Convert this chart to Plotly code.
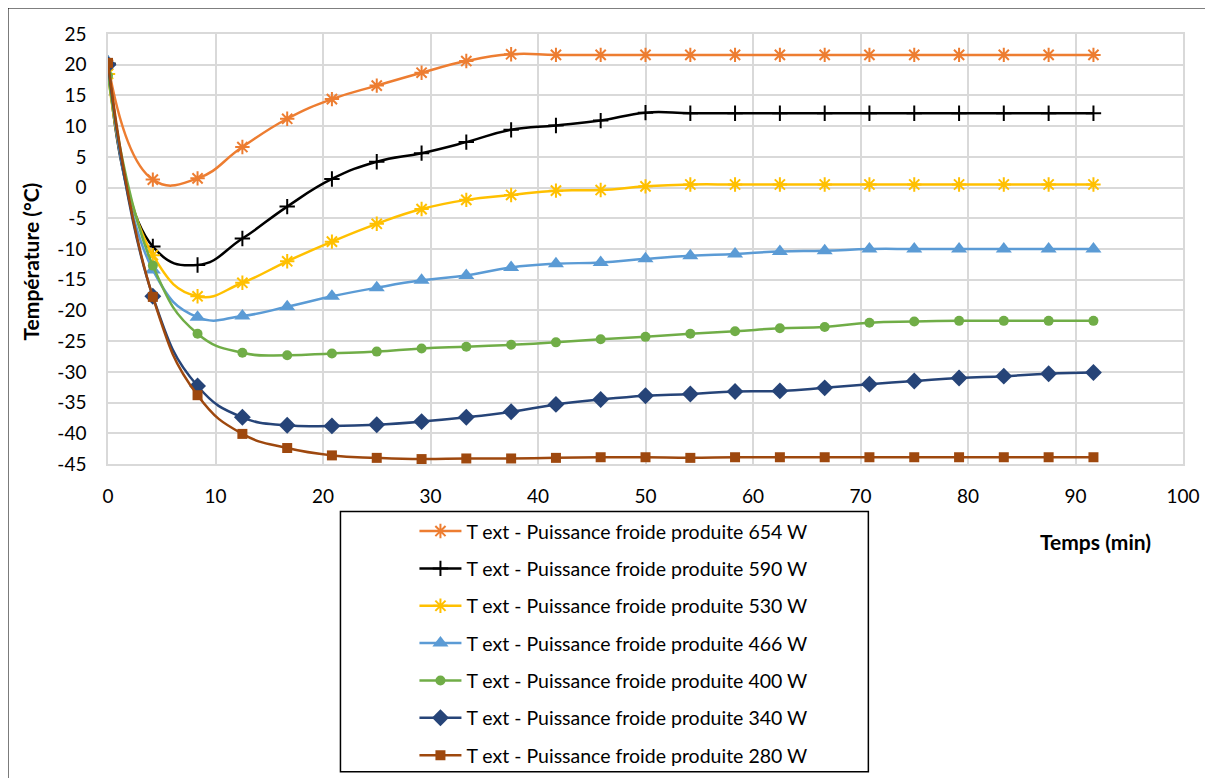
import plotly.graph_objects as go

# ---- data ----
time_min = [0, 4.17, 8.33, 12.5, 16.67, 20.83, 25, 29.17, 33.33, 37.5, 41.67, 45.83,
            50, 54.17, 58.33, 62.5, 66.67, 70.83, 75, 79.17, 83.33, 87.5, 91.67]

t_654 = [20.0, 1.3, 1.5, 6.6, 11.2, 14.4, 16.6, 18.7, 20.6, 21.7, 21.6, 21.6,
         21.6, 21.6, 21.6, 21.6, 21.6, 21.6, 21.6, 21.6, 21.6, 21.6, 21.6]
t_590 = [20.2, -9.6, -12.6, -8.3, -3.1, 1.4, 4.2, 5.6, 7.4, 9.4, 10.1, 10.9,
         12.2, 12.1, 12.1, 12.1, 12.1, 12.1, 12.1, 12.1, 12.1, 12.1, 12.1]
t_530 = [18.5, -11.0, -17.7, -15.5, -12.0, -8.8, -5.9, -3.5, -2.0, -1.2, -0.5, -0.4,
         0.2, 0.5, 0.5, 0.5, 0.5, 0.5, 0.5, 0.5, 0.5, 0.5, 0.5]
t_466 = [20.5, -13.4, -21.1, -20.9, -19.4, -17.7, -16.3, -15.1, -14.3, -13.0, -12.4, -12.2,
         -11.6, -11.1, -10.8, -10.4, -10.3, -10.0, -10.0, -10.0, -10.0, -10.0, -10.0]
t_400 = [18.2, -12.7, -23.8, -26.9, -27.3, -27.0, -26.7, -26.2, -25.9, -25.6, -25.2, -24.7,
         -24.3, -23.8, -23.4, -22.9, -22.7, -22.0, -21.8, -21.7, -21.7, -21.7, -21.7]
t_340 = [20.0, -17.7, -32.3, -37.4, -38.7, -38.8, -38.6, -38.1, -37.4, -36.5, -35.3, -34.5,
         -33.9, -33.6, -33.2, -33.1, -32.6, -32.0, -31.5, -31.0, -30.7, -30.3, -30.1]
t_280 = [20.3, -17.8, -33.8, -40.1, -42.4, -43.6, -44.0, -44.2, -44.1, -44.1, -44.0, -43.9,
         -43.9, -44.0, -43.9, -43.9, -43.9, -43.9, -43.9, -43.9, -43.9, -43.9, -43.9]

series_names = [
    "T ext - Puissance froide produite 654 W",
    "T ext - Puissance froide produite 590 W",
    "T ext - Puissance froide produite 530 W",
    "T ext - Puissance froide produite 466 W",
    "T ext - Puissance froide produite 400 W",
    "T ext - Puissance froide produite 340 W",
    "T ext - Puissance froide produite 280 W",
]
series_values = [t_654, t_590, t_530, t_466, t_400, t_340, t_280]

x_ticks = [0, 10, 20, 30, 40, 50, 60, 70, 80, 90, 100]
y_ticks = [25, 20, 15, 10, 5, 0, -5, -10, -15, -20, -25, -30, -35, -40, -45]

# ---- styles ----
colors = ["#ED7D31", "#000000", "#FFC000", "#5B9BD5", "#70AD47", "#264478", "#9E480E"]
symbols = ["asterisk-open", "cross-thin-open", "asterisk-open", "triangle-up",
           "circle", "diamond", "square"]
sizes = [12, 11, 12, 14, 10, 13, 10]

FONT = "Lato"
W, H = 1213, 778
OFF = 8  # page offset of the figure (default body margin)
# plot area in page pixels
PL, PR, PT, PB = 107.5, 1182.7, 33.5, 464.5
PW, PH = PR - PL, PB - PT
ML, MT = PL - OFF, PT - OFF
MR = W - ML - PW
MB = H - MT - PH


def px_x(p):
    return (p - PL) / PW


def px_y(p):
    return (PB - p) / PH


fig = go.Figure()
for i, (name, vals) in enumerate(zip(series_names, series_values)):
    open_sym = symbols[i].endswith("open")
    fig.add_trace(go.Scatter(
        x=time_min, y=vals, name=name, mode="lines+markers",
        line=dict(color=colors[i], width=2.5, shape="spline", smoothing=1.3),
        marker=dict(symbol=symbols[i], size=sizes[i], color=colors[i],
                    line=dict(color=colors[i], width=2 if open_sym else 0)),
        legendgroup=f"g{i}",
    ))

grid = "#D9D9D9"
fig.update_xaxes(
    range=[0, 100], tickvals=x_ticks, ticktext=[str(v) for v in x_ticks],
    showgrid=True, gridcolor=grid, gridwidth=1.5,
    showline=True, linecolor=grid, linewidth=1.5, mirror=True,
    zeroline=False, ticks="", ticklabelstandoff=14, automargin=False,
    tickfont=dict(family=FONT, size=19, color="#000000"),
)
fig.update_yaxes(
    range=[-45, 25], tickvals=y_ticks, ticktext=[str(v) for v in y_ticks],
    showgrid=True, gridcolor=grid, gridwidth=1.5,
    showline=True, linecolor=grid, linewidth=1.5, mirror=True,
    zeroline=False, ticks="", ticklabelstandoff=16, automargin=False,
    tickfont=dict(family=FONT, size=19, color="#000000"),
)

fig.update_layout(
    width=W, height=H,
    margin=dict(l=ML, r=MR, t=MT, b=MB, pad=0, autoexpand=False),
    paper_bgcolor="#FFFFFF", plot_bgcolor="#FFFFFF",
    font=dict(family=FONT, size=19, color="#000000"),
    showlegend=True,
    legend=dict(
        x=px_x(414), y=px_y(512.5), xanchor="left", yanchor="top",
        bgcolor="rgba(0,0,0,0)", borderwidth=0,
        font=dict(family=FONT, size=19.5, color="#000000"),
        traceorder="grouped", tracegroupgap=9, itemwidth=42,
    ),
    shapes=[
        # legend frame
        dict(type="rect", xref="paper", yref="paper",
             x0=px_x(340), x1=px_x(868), y0=px_y(773), y1=px_y(512),
             line=dict(color="#000000", width=1.5), fillcolor="rgba(0,0,0,0)"),
        # outer chart frame (extends beyond the visible page)
        dict(type="rect", xref="paper", yref="paper",
             x0=px_x(7), x1=px_x(1240), y0=px_y(800), y1=px_y(7),
             line=dict(color="#000000", width=2), fillcolor="rgba(0,0,0,0)",
             layer="below"),
    ],
    annotations=[
        dict(text="<b>Température (°C)</b>", textangle=-90, showarrow=False,
             xref="paper", yref="paper", x=px_x(30), y=px_y(262),
             xanchor="center", yanchor="middle",
             font=dict(family=FONT, size=21, color="#000000")),
        dict(text="<b>Temps (min)</b>", showarrow=False,
             xref="paper", yref="paper", x=px_x(1095), y=px_y(542),
             xanchor="center", yanchor="middle",
             font=dict(family=FONT, size=21, color="#000000")),
    ],
)

fig.write_html("out.html")
